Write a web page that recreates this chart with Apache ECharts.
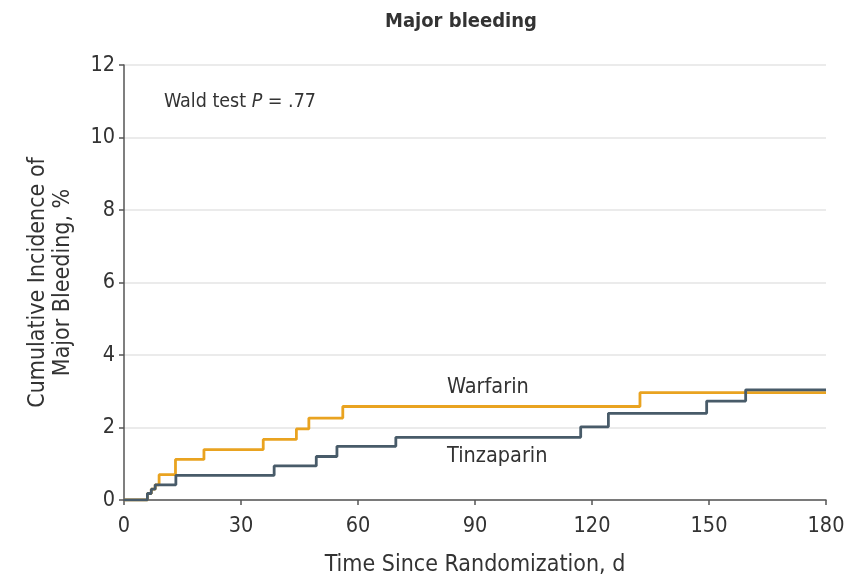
<!DOCTYPE html>
<html>
<head>
<meta charset="utf-8">
<script src="https://cdn.jsdelivr.net/npm/echarts@6/dist/echarts.min.js"></script>
<style>html,body{margin:0;padding:0;background:#fff;}#c{width:861px;height:578px;}</style>
</head>
<body>
<div id="c"></div>
<script>
// Data (day of event, cumulative incidence %)
const warfarinDays   = [0, 6, 7, 8, 9, 13.2, 20.5, 35.7, 44.2, 47.4, 56.1, 132.3, 180];
const warfarinValues = [0, 0.18, 0.3, 0.42, 0.7, 1.12, 1.39, 1.67, 1.96, 2.26, 2.58, 2.96, 2.96];
const tinzaDays      = [0, 6, 7, 8, 13.3, 38.5, 49.3, 54.6, 69.7, 117.1, 124.2, 149.4, 159.4, 180];
const tinzaValues    = [0, 0.18, 0.3, 0.42, 0.68, 0.94, 1.2, 1.48, 1.73, 2.02, 2.39, 2.73, 3.04, 3.04];
const xTicks = [0, 30, 60, 90, 120, 150, 180];
const yTicks = [0, 2, 4, 6, 8, 10, 12];

const FONT = "'DejaVu Sans Condensed', 'Liberation Sans Narrow', sans-serif";
const ORANGE = '#E9A320';
const SLATE = '#485B69';

const zip = (a, b) => a.map((v, i) => [v, b[i]]);

const chart = echarts.init(document.getElementById('c'));
chart.setOption({
  backgroundColor: '#fff',
  animation: false,
  textStyle: { fontFamily: FONT },
  title: {
    text: 'Major bleeding',
    left: 456, top: 7, textAlign: 'center',
    textStyle: { fontFamily: FONT, fontWeight: 'bold', fontSize: 20, color: '#333' }
  },
  grid: { left: 124, right: 35, top: 65, bottom: 78, containLabel: false, outerBoundsMode: 'none' },
  xAxis: {
    type: 'value', min: xTicks[0], max: xTicks[xTicks.length - 1], interval: 30,
    name: 'Time Since Randomization, d', nameLocation: 'middle', nameGap: 54,
    nameTextStyle: { fontFamily: FONT, fontSize: 23, color: '#333' },
    axisLine: { show: true, lineStyle: { color: '#555', width: 1.5 } },
    axisTick: { show: true, length: 5, lineStyle: { color: '#555', width: 1.5 } },
    axisLabel: { fontFamily: FONT, fontSize: 21.5, color: '#333', margin: 15 },
    splitLine: { show: false }
  },
  yAxis: {
    type: 'value', min: yTicks[0], max: yTicks[yTicks.length - 1], interval: 2,
    name: 'Cumulative Incidence of\nMajor Bleeding, %', nameLocation: 'middle', nameGap: 48,
    nameTextStyle: { fontFamily: FONT, fontSize: 23, color: '#333', lineHeight: 25 },
    axisLine: { show: true, lineStyle: { color: '#555', width: 1.5 } },
    axisTick: { show: true, length: 5, lineStyle: { color: '#555', width: 1.5 } },
    axisLabel: { fontFamily: FONT, fontSize: 21.5, color: '#333', margin: 9 },
    splitLine: { show: true, lineStyle: { color: '#e4e4e4', width: 1.5 } }
  },
  series: [
    {
      name: 'Warfarin', type: 'line', step: 'end', symbol: 'none',
      data: zip(warfarinDays, warfarinValues),
      lineStyle: { color: ORANGE, width: 2.8 }, z: 3
    },
    {
      name: 'Tinzaparin', type: 'line', step: 'end', symbol: 'none',
      data: zip(tinzaDays, tinzaValues),
      lineStyle: { color: SLATE, width: 2.8 }, z: 4
    }
  ],
  graphic: [
    {
      type: 'text', left: 164, top: 92,
      style: {
        text: '{n|Wald test }{i|P}{n| = .77}',
        rich: {
          n: { fontFamily: FONT, fontSize: 19.5, fill: '#333' },
          i: { fontFamily: FONT, fontSize: 19.5, fill: '#333', fontStyle: 'italic' }
        }
      }
    },
    {
      type: 'text', left: 447, top: 376,
      style: { text: 'Warfarin', fontFamily: FONT, fontSize: 21.5, fill: '#333' }
    },
    {
      type: 'text', left: 447, top: 445,
      style: { text: 'Tinzaparin', fontFamily: FONT, fontSize: 21.5, fill: '#333' }
    }
  ]
});
</script>
</body>
</html>
